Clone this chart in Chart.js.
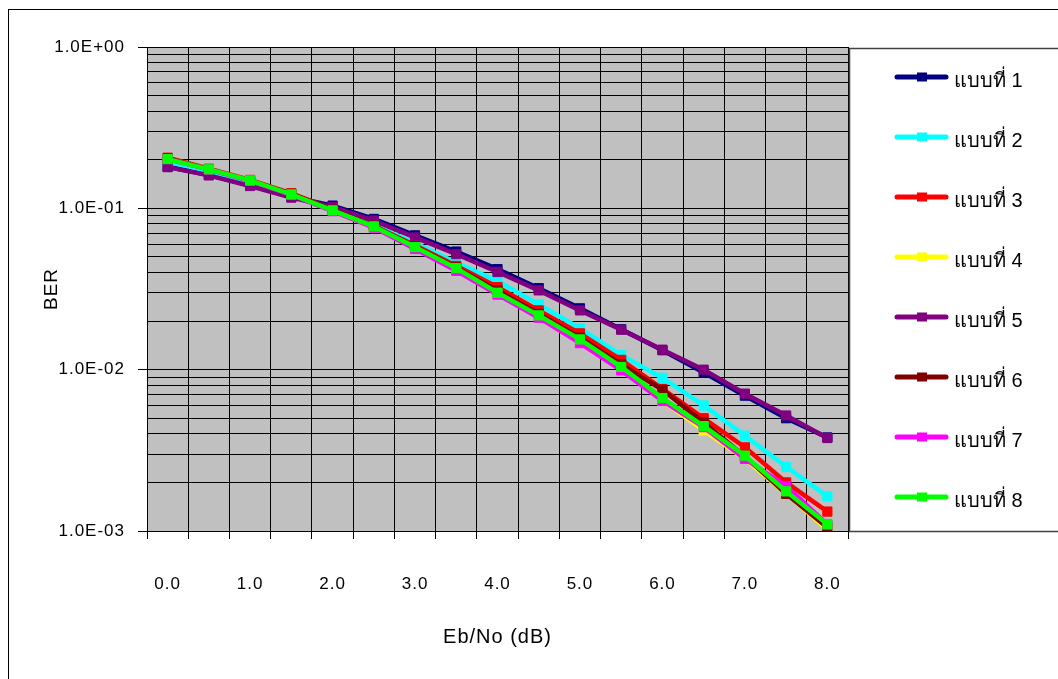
<!DOCTYPE html>
<html>
<head>
<meta charset="utf-8">
<script src="https://cdn.jsdelivr.net/npm/chart.js@4/dist/chart.umd.min.js"></script>
<style>
html,body{margin:0;padding:0;background:#fff;}
#wrap{width:1058px;height:679px;position:relative;}
</style>
</head>
<body>
<div id="wrap"><canvas id="c" width="1058" height="679"></canvas></div>
<script>
// Eb/No categories (dB)
const ebNo = ['0.0','0.5','1.0','1.5','2.0','2.5','3.0','3.5','4.0','4.5','5.0','5.5','6.0','6.5','7.0','7.5','8.0'];

const seriesNames = ['แบบที่ 1','แบบที่ 2','แบบที่ 3','แบบที่ 4','แบบที่ 5','แบบที่ 6','แบบที่ 7','แบบที่ 8'];
const seriesColors = ['#000080','#00FFFF','#FF0000','#FFFF00','#800080','#800000','#FF00FF','#00FF00'];

// BER per scheme
const ber1 = [0.181,0.161,0.139,0.118,0.104,0.086,0.068,0.054,0.042,0.032,0.024,0.0178,0.0132,0.0096,0.0069,0.0050,0.0038];
const ber2 = [0.195,0.170,0.145,0.120,0.099,0.079,0.061,0.046,0.0354,0.0254,0.0180,0.0123,0.0089,0.0060,0.0039,0.0025,0.00164];
const ber3 = [0.206,0.176,0.150,0.124,0.099,0.078,0.059,0.044,0.0325,0.0233,0.0168,0.0115,0.0076,0.0050,0.0033,0.0020,0.00132];
const ber4 = [0.203,0.175,0.149,0.122,0.097,0.077,0.057,0.042,0.0298,0.0214,0.0150,0.0101,0.0064,0.0042,0.0028,0.0017,0.00102];
const ber5 = [0.180,0.160,0.1375,0.1165,0.102,0.084,0.066,0.052,0.0403,0.031,0.0233,0.0177,0.0133,0.0100,0.0071,0.0052,0.00377];
const ber6 = [0.204,0.175,0.149,0.123,0.098,0.078,0.058,0.043,0.031,0.0222,0.0158,0.0108,0.0075,0.0047,0.0029,0.0017,0.00105];
const ber7 = [0.202,0.174,0.148,0.121,0.096,0.076,0.056,0.041,0.0292,0.021,0.0146,0.0099,0.0064,0.0044,0.0028,0.0019,0.0011];
const ber8 = [0.202,0.1745,0.149,0.122,0.0972,0.0773,0.0575,0.0426,0.030,0.0217,0.0154,0.0104,0.00667,0.00447,0.00293,0.00176,0.0011];

// y axis decades and their labels
const yDecades = [0.001, 0.01, 0.1, 1];
const yTickLabels = ['1.0E-03','1.0E-02','1.0E-01','1.0E+00'];
const yMinorSteps = [2,3,4,5,6,7,8,9];

const allSeries = [ber1,ber2,ber3,ber4,ber5,ber6,ber7,ber8];

const FONT = "'Liberation Sans', Arial, sans-serif";

const yTicks = [];
yDecades.forEach((d, i) => {
  yTicks.push(d);
  if (i < yDecades.length - 1) yMinorSteps.forEach(m => yTicks.push(+(d * m).toPrecision(6)));
});

const datasets = allSeries.map((data, i) => ({
  label: seriesNames[i],
  data: data,
  borderColor: seriesColors[i],
  backgroundColor: seriesColors[i],
  borderWidth: 4.5,
  pointStyle: 'rect',
  pointRadius: 6.5,
  pointBorderWidth: 1,
  pointBorderColor: seriesColors[i],
  pointBackgroundColor: seriesColors[i],
  tension: 0,
  fill: false,
  order: allSeries.length - 1 - i
}));

// page background, outer frame and grey plot area
const frame = {
  id: 'frame',
  beforeDraw(chart) {
    const ctx = chart.ctx, a = chart.chartArea;
    ctx.save();
    ctx.fillStyle = '#fff';
    ctx.fillRect(0, 0, chart.width, chart.height);
    ctx.strokeStyle = '#000';
    ctx.lineWidth = 1;
    ctx.strokeRect(8.5, 9.5, chart.width + 20, chart.height + 20);
    ctx.fillStyle = '#C0C0C0';
    ctx.fillRect(a.left, a.top, a.right - a.left, a.bottom - a.top);
    ctx.restore();
    ctx.letterSpacing = '1px';
  }
};

// boxed legend at the right
const sideLegend = {
  id: 'sideLegend',
  afterDraw(chart) {
    const ctx = chart.ctx;
    ctx.save();
    ctx.letterSpacing = '0px';
    ctx.strokeStyle = '#404040';
    ctx.lineWidth = 1.5;
    ctx.strokeRect(849.5, 48.5, 300, 483);
    chart.data.datasets.forEach((ds, i) => {
      const y = 77 + 60 * i;
      ctx.strokeStyle = ds.borderColor;
      ctx.lineWidth = 5;
      ctx.lineCap = 'round';
      ctx.beginPath();
      ctx.moveTo(897, y);
      ctx.lineTo(946, y);
      ctx.stroke();
      ctx.fillStyle = ds.borderColor;
      ctx.fillRect(917, y - 4.5, 10, 9);
      ctx.fillStyle = '#000';
      ctx.font = "20px " + FONT;
      ctx.textBaseline = 'middle';
      ctx.textAlign = 'left';
      ctx.fillText(ds.label, 954, y + 4);
    });
    ctx.restore();
  }
};

new Chart(document.getElementById('c'), {
  type: 'line',
  data: { labels: ebNo, datasets: datasets },
  plugins: [frame, sideLegend],
  options: {
    responsive: false,
    animation: false,
    devicePixelRatio: 1,
    layout: { padding: { left: 0, top: 47, right: 210, bottom: 0 } },
    plugins: { legend: { display: false }, tooltip: { enabled: false } },
    scales: {
      x: {
        type: 'category',
        offset: true,
        grid: { offset: true, color: '#000', lineWidth: 1, tickLength: 8, tickColor: '#000' },
        border: { color: '#000', width: 1 },
        ticks: {
          autoSkip: false, maxRotation: 0, minRotation: 0, padding: 35, color: '#000',
          font: { family: FONT, size: 17 },
          callback: function (v, i) { return i % 2 === 0 ? ebNo[i] : ''; }
        },
        title: { display: true, text: 'Eb/No (dB)', color: '#000', font: { family: FONT, size: 20 }, padding: { top: 0, bottom: 30 } },
        afterFit(s) { s.height = 148; }
      },
      y: {
        type: 'logarithmic',
        min: 0.001,
        max: 1,
        afterBuildTicks(s) { s.ticks = yTicks.map(v => ({ value: v })); },
        grid: {
          color: '#000', lineWidth: 1, tickLength: 9,
          tickColor: c => (c.tick && yDecades.some(d => Math.abs(d - c.tick.value) < d * 1e-6)) ? '#000' : 'rgba(0,0,0,0)'
        },
        border: { color: '#000', width: 1 },
        ticks: {
          autoSkip: false, padding: 13, color: '#000',
          font: { family: FONT, size: 17 },
          callback: function (v) {
            const k = yDecades.findIndex(d => Math.abs(d - v) < d * 1e-6);
            return k >= 0 ? yTickLabels[k] : '';
          }
        },
        title: { display: true, text: 'BER', color: '#000', font: { family: FONT, size: 19 }, padding: { top: 40, bottom: 0 } },
        afterFit(s) { s.width = 147; }
      }
    }
  }
});
</script>
</body>
</html>
